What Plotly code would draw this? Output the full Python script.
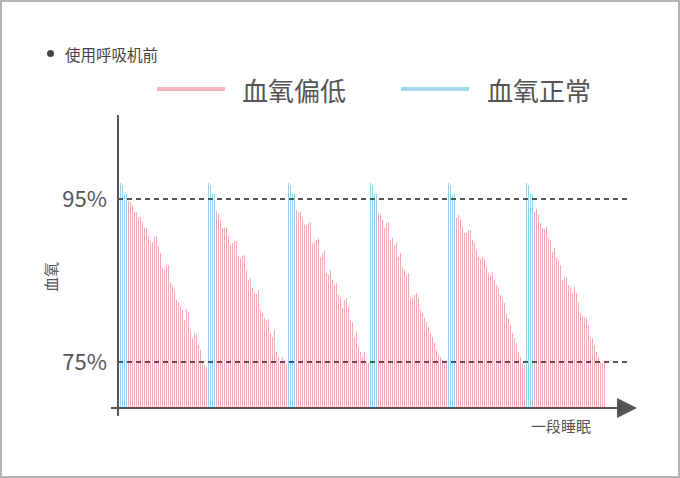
import plotly.graph_objects as go

# ---------------- data (blood oxygen %, one bar per sample) ----------------
group_normal = [
    [97.0, 96.7, 95.6, 95.6],
    [97.0, 96.7, 95.6, 95.6],
    [97.0, 96.7, 95.6, 95.6],
    [97.0, 96.7, 95.6, 95.6],
    [97.0, 96.7, 95.5, 95.6],
    [97.0, 96.7, 95.6, 95.6],
]
group_low = [
    [94.75, 94.6, 94.3, 93.4, 93.4, 92.8, 92.8, 92.2, 91.4, 91.4, 90.5, 89.7, 89.7,
     90.3, 90.5, 89.2, 88.4, 86.5, 86.3, 86.9, 86.9, 84.8, 84.4, 83.8, 82.6, 82.4,
     81.9, 81.4, 80.2, 81.5, 81.1, 78.9, 78.0, 78.6, 78.3, 77.1, 76.5, 75.0, 74.6, 74.4],
    [93.5, 93.2, 92.4, 91.4, 91.4, 91.6, 90.5, 89.4, 89.6, 89.8, 89.8, 88.0, 87.8,
     88.0, 88.1, 86.3, 85.1, 85.3, 84.1, 83.5, 83.3, 83.8, 81.4, 81.0, 80.4, 80.2,
     80.3, 78.6, 78.1, 78.9, 76.2, 75.6, 74.9, 75.6, 75.2, 74.8],
    [93.7, 93.4, 93.4, 92.7, 91.8, 91.7, 92.1, 92.2, 89.6, 89.7, 90.0, 90.2, 87.9,
     88.4, 88.7, 85.9, 85.7, 86.3, 85.1, 84.4, 84.7, 83.2, 82.9, 81.6, 82.6, 82.9,
     81.7, 80.2, 79.9, 78.1, 78.7, 76.8, 76.2, 75.6, 76.2, 74.9, 74.9],
    [93.3, 93.0, 92.4, 91.4, 92.1, 92.2, 90.0, 90.2, 89.4, 89.6, 87.9, 88.4, 86.7,
     86.3, 85.7, 85.9, 83.0, 82.9, 83.2, 83.5, 82.9, 81.4, 81.0, 80.4, 79.9, 79.3,
     78.6, 78.1, 77.3, 76.5, 75.9, 75.6, 75.2, 75.0, 74.9],
    [92.7, 93.0, 92.4, 91.6, 90.8, 90.8, 91.2, 91.2, 90.0, 89.6, 88.7, 87.9, 87.6,
     87.9, 87.5, 86.7, 85.9, 85.7, 86.0, 85.1, 84.4, 84.2, 83.2, 82.9, 82.2, 81.0,
     80.4, 79.5, 78.6, 78.0, 77.3, 76.2, 75.6, 74.9, 74.6],
    [93.4, 93.8, 93.0, 92.1, 91.4, 91.3, 91.6, 90.2, 90.0, 88.5, 89.0, 87.8, 87.5,
     86.9, 85.1, 85.4, 85.4, 84.4, 84.2, 83.5, 84.2, 83.5, 82.4, 81.0, 80.8, 80.5,
     80.4, 79.5, 78.0, 78.0, 77.1, 76.2, 75.6, 75.0, 74.9, 74.9],
]
tick_vals = [95, 75]
tick_text = ["95%", "75%"]
ref_lines = [95, 75]
title_text = "使用呼吸机前"
legend_names = ["血氧偏低", "血氧正常"]
y_title = "血氧"
x_title = "一段睡眠"

PINK = "#f2adb3"
BLUE = "#98d3ee"
PINK_LEG = "#f4b6bb"
BLUE_LEG = "#a3d8f0"
DARK = "#555555"
FONT = "Noto Sans CJK SC"

# build sample index sequence
low_x, low_y, norm_x, norm_y = [], [], [], []
idx = 0
for n_vals, l_vals in zip(group_normal, group_low):
    for v in n_vals:
        norm_x.append(idx); norm_y.append(v); idx += 1
    for v in l_vals:
        low_x.append(idx); low_y.append(v); idx += 1

fig = go.Figure()
fig.add_trace(go.Bar(x=low_x, y=low_y, name=legend_names[0], marker=dict(color=PINK, line=dict(width=0)),
                     width=0.3, showlegend=False, hoverinfo="skip"))
fig.add_trace(go.Bar(x=norm_x, y=norm_y, name=legend_names[1], marker=dict(color=BLUE, line=dict(width=0)),
                     width=0.3, showlegend=False, hoverinfo="skip"))

L, R, T, B = 118, 40, 115, 70
W, H = 680, 478
pw, ph = W - L - R, H - T - B


def px(xp):
    return (xp - L) / pw


def py(yp):
    return (H - B - yp) / ph


shapes = []
# border
shapes.append(dict(type="rect", xref="paper", yref="paper", x0=px(1), x1=px(679), y0=py(477), y1=py(1),
                   line=dict(color="#b3b3b3", width=2), fillcolor="rgba(0,0,0,0)", layer="below"))
# reference dashed lines
for v in ref_lines:
    shapes.append(dict(type="line", xref="paper", yref="y", x0=0, x1=px(627), y0=v, y1=v,
                       line=dict(color=DARK, width=2, dash="5px,4px")))
# axes
shapes.append(dict(type="line", xref="paper", yref="paper", x0=0, x1=0, y0=py(416), y1=1,
                   line=dict(color=DARK, width=2)))
shapes.append(dict(type="line", xref="paper", yref="paper", x0=px(111), x1=px(620), y0=0, y1=0,
                   line=dict(color=DARK, width=2)))
shapes.append(dict(type="path", xref="paper", yref="paper",
                   path=f"M {px(617)},{py(398)} L {px(637)},{py(408)} L {px(617)},{py(418)} Z",
                   fillcolor=DARK, line=dict(color=DARK, width=0)))
# title bullet
shapes.append(dict(type="circle", xref="paper", yref="paper", x0=px(47), x1=px(54), y0=py(57), y1=py(50),
                   fillcolor="#444444", line=dict(width=0)))
# legend lines
shapes.append(dict(type="line", xref="paper", yref="paper", x0=px(157), x1=px(225), y0=py(89), y1=py(89),
                   line=dict(color=PINK_LEG, width=4)))
shapes.append(dict(type="line", xref="paper", yref="paper", x0=px(401), x1=px(469), y0=py(89), y1=py(89),
                   line=dict(color=BLUE_LEG, width=4)))

annotations = [
    dict(text=title_text, xref="paper", yref="paper", x=px(63), y=py(54), xanchor="left", yanchor="middle",
         showarrow=False, font=dict(size=15.5, color="#444444", family=FONT)),
    dict(text=legend_names[0], xref="paper", yref="paper", x=px(240), y=py(89), xanchor="left", yanchor="middle",
         showarrow=False, font=dict(size=26, color=DARK, family=FONT)),
    dict(text=legend_names[1], xref="paper", yref="paper", x=px(485), y=py(89), xanchor="left", yanchor="middle",
         showarrow=False, font=dict(size=26, color=DARK, family=FONT)),
    dict(text=y_title, xref="paper", yref="paper", x=px(50), y=py(277), xanchor="center", yanchor="middle",
         textangle=-90, showarrow=False, font=dict(size=15, color=DARK, family=FONT)),
    dict(text=x_title, xref="paper", yref="paper", x=px(561), y=py(425), xanchor="center", yanchor="middle",
         showarrow=False, font=dict(size=15, color=DARK, family=FONT)),
]

fig.update_layout(
    width=W, height=H, margin=dict(l=L, r=R, t=T, b=B, pad=0),
    paper_bgcolor="white", plot_bgcolor="white",
    bargap=0, barmode="overlay",
    xaxis=dict(visible=False, range=[-1.25, -1.25 + pw / 2.0], fixedrange=True),
    yaxis=dict(range=[95 - (H - B - 199) / 8.15, 95 + (199 - T) / 8.15],
               tickvals=tick_vals, ticktext=tick_text, showgrid=False, zeroline=False, showline=False,
               ticks="inside", ticklen=4, tickwidth=2, tickcolor=DARK,
               ticklabelstandoff=10,
               tickfont=dict(size=22, color=DARK, family=FONT), fixedrange=True),
    shapes=shapes, annotations=annotations,
    font=dict(family=FONT),
)

fig.write_html("out.html", config=dict(displayModeBar=False, responsive=False),
               post_script="document.body.style.margin='0';")
